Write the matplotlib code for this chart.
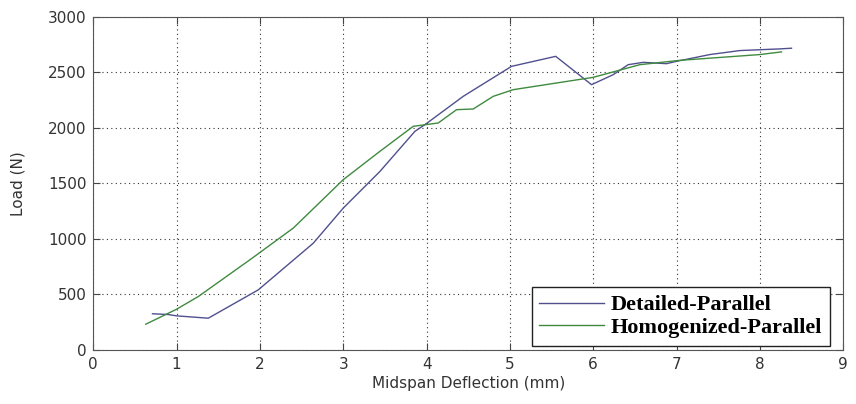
import matplotlib
matplotlib.use('Agg')
import matplotlib.pyplot as plt

# Detailed-Parallel curve
det_x = [0.71, 0.9, 1.0, 1.38, 1.98, 2.64, 3.0, 3.44, 3.86, 3.98, 4.44, 5.02, 5.55, 5.98,
         6.24, 6.42, 6.6, 6.88, 7.0, 7.4, 7.76, 8.24, 8.38]
det_y = [325, 318, 306, 285, 540, 960, 1276, 1606, 1967, 2027, 2282, 2552, 2642, 2387,
         2477, 2567, 2588, 2576, 2597, 2658, 2694, 2709, 2715]

# Homogenized-Parallel curve
hom_x = [0.63, 1.0, 1.26, 1.88, 2.40, 3.0, 3.44, 3.84, 4.14, 4.36, 4.56, 4.80, 5.04,
         6.0, 6.56, 7.04, 8.0, 8.26]
hom_y = [231, 366, 480, 811, 1096, 1532, 1787, 2012, 2042, 2162, 2168, 2282, 2342,
         2453, 2567, 2606, 2658, 2682]

x_ticks = list(range(0, 10))
y_ticks = [0, 500, 1000, 1500, 2000, 2500, 3000]


def main():
    fig = plt.figure(figsize=(8.56, 4.04), dpi=100)
    ax = fig.add_axes([0.109, 0.134, 0.876, 0.825])

    ax.plot(det_x, det_y, color='#50508f', lw=1.0, label='Detailed-Parallel')
    ax.plot(hom_x, hom_y, color='#3f8a3f', lw=1.0, label='Homogenized-Parallel')

    ax.set_xlim(0, 9)
    ax.set_ylim(0, 3000)
    ax.set_xticks(x_ticks)
    ax.set_yticks(y_ticks)
    ax.grid(True, linestyle=(0, (1, 3)), color='#333333', lw=0.8)
    ax.tick_params(direction='in', top=True, right=True, length=5, labelsize=11,
                   labelcolor='#333333', color='#444444', pad=5)
    for s in ax.spines.values():
        s.set_color('#555555')

    ax.set_xlabel('Midspan Deflection (mm)', fontsize=11, color='#333333', labelpad=3)
    ax.set_ylabel('Load (N)', fontsize=11, color='#333333', labelpad=16)

    leg = ax.legend(loc='lower right', prop={'family': 'Liberation Serif', 'weight': 'bold', 'size': 16},
                    fancybox=False, framealpha=1, edgecolor='#222222', handlelength=2.9,
                    borderpad=0.35, labelspacing=0.1, handletextpad=0.3, borderaxespad=0,
                    bbox_to_anchor=(0.982, 0.012))
    leg.get_frame().set_linewidth(1.0)

    fig.savefig('out.png', dpi=100)


if __name__ == '__main__':
    main()
